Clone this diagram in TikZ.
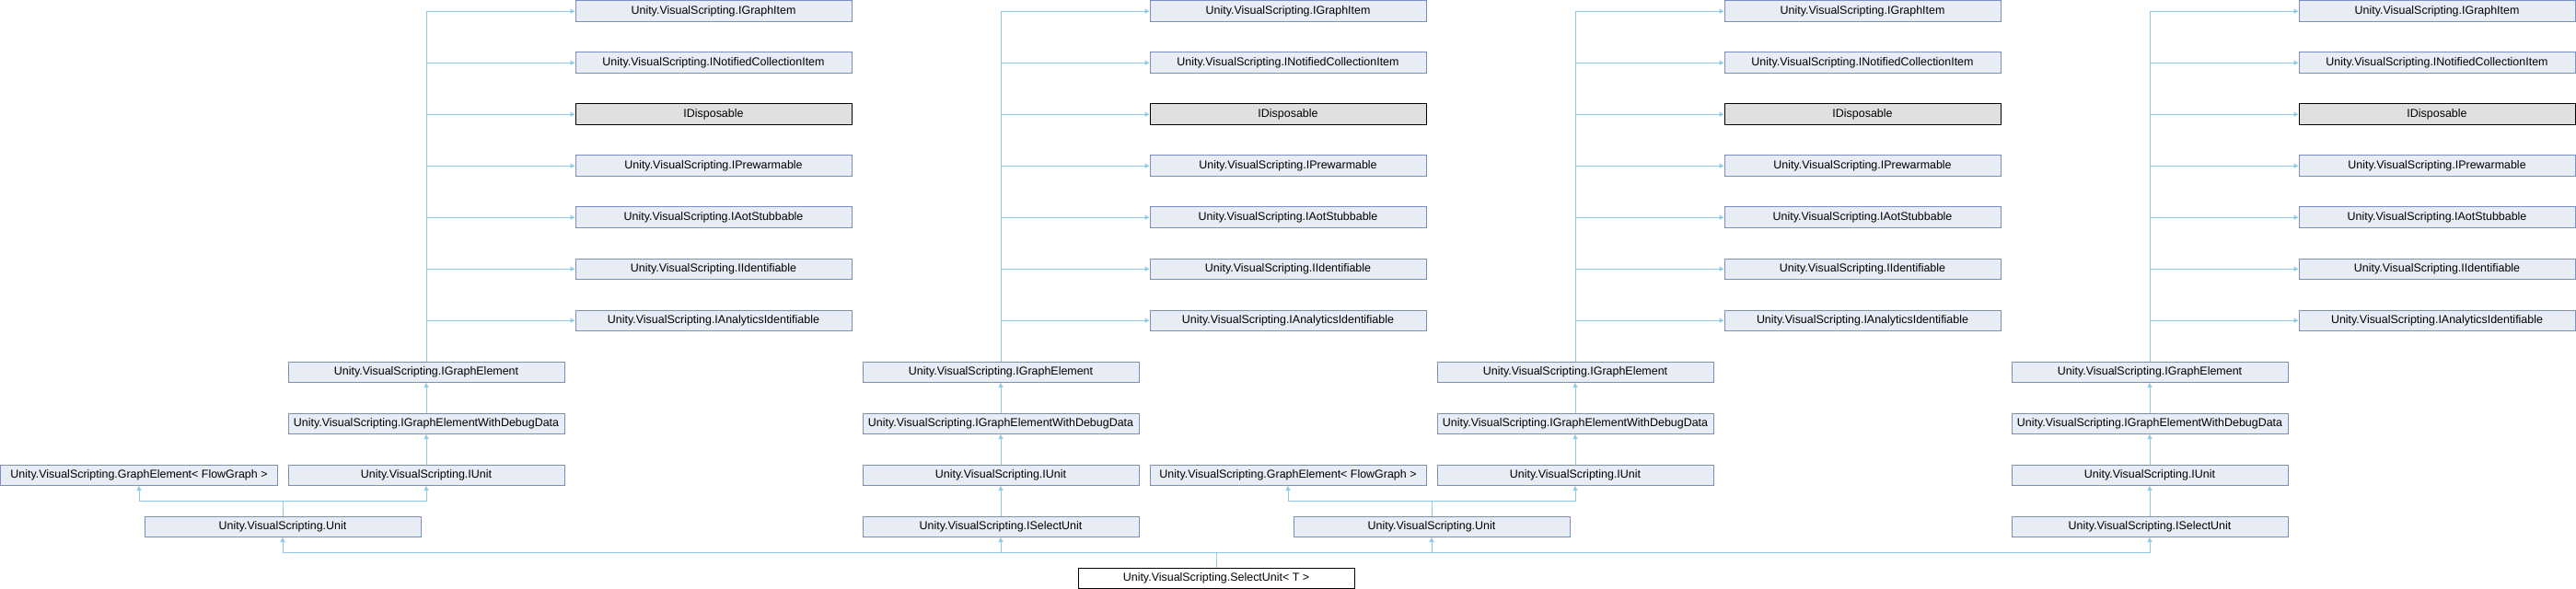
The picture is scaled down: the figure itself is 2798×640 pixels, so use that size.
\documentclass[tikz,border=0pt]{standalone}
\usepackage{fontspec}
\setmainfont{Liberation Sans}
\usetikzlibrary{arrows.meta}
\definecolor{boxfill}{RGB}{232,236,245}
\definecolor{boxline}{RGB}{122,143,201}
\definecolor{edgecol}{RGB}{143,200,232}
\definecolor{extfill}{RGB}{224,224,224}
\tikzset{
  cls/.style={draw=boxline, fill=boxfill, line width=1bp, minimum width=300bp,
    minimum height=22.5bp, inner sep=0pt, anchor=north west,
    font=\fontsize{12.5}{15}\selectfont},
  extcls/.style={cls, draw=black, fill=extfill},
  maincls/.style={cls, draw=black, fill=white},
  edge/.style={draw=edgecol, line width=1bp, -{Triangle[length=5bp,width=5bp]}},
}
\begin{document}
\begin{tikzpicture}[x=1bp,y=-1bp]
\useasboundingbox (0,0) rectangle (2798,640);
\foreach \col/\x in {a/312,b/936,c/1560,d/2184} {
  \node[cls] (\col-IGE) at (\x+0.5,392.5) {Unity.VisualScripting.IGraphElement};
  \node[cls] (\col-IGEW) at (\x+0.5,448.5) {Unity.VisualScripting.IGraphElementWithDebugData};
  \node[cls] (\col-IUnit) at (\x+0.5,504.5) {Unity.VisualScripting.IUnit};
  \draw[edge] (\col-IGEW.north) -- (\col-IGE.south);
  \draw[edge] (\col-IUnit.north) -- (\col-IGEW.south);
  \foreach \s/\t [count=\k from 0] in {
      cls/Unity.VisualScripting.IGraphItem,
      cls/Unity.VisualScripting.INotifiedCollectionItem,
      extcls/IDisposable,
      cls/Unity.VisualScripting.IPrewarmable,
      cls/Unity.VisualScripting.IAotStubbable,
      cls/Unity.VisualScripting.IIdentifiable,
      cls/Unity.VisualScripting.IAnalyticsIdentifiable} {
    \node[\s] (\col-I\k) at (\x+312.5, 56*\k+0.5) {\t};
    \draw[edge] (\col-IGE.north) |- (\col-I\k.west);
  }
}
% columns with Unit
\foreach \col/\x in {a/312,c/1560} {
  \node[cls] (\col-GE) at (\x-311.5,504.5) {Unity.VisualScripting.GraphElement< FlowGraph >};
  \node[cls] (\col-Unit) at (\x-155.5,560.5) {Unity.VisualScripting.Unit};
  \draw[edge] (\col-Unit.north) -- ++(0,-16) -| (\col-GE.south);
  \draw[edge] (\col-Unit.north) -- ++(0,-16) -| (\col-IUnit.south);
}
% columns with ISelectUnit
\foreach \col/\x in {b/936,d/2184} {
  \node[cls] (\col-ISel) at (\x+0.5,560.5) {Unity.VisualScripting.ISelectUnit};
  \draw[edge] (\col-ISel.north) -- (\col-IUnit.south);
}
\node[maincls] (sel) at (1170.5,616.5) {Unity.VisualScripting.SelectUnit< T >};
\foreach \p in {a-Unit,b-ISel,c-Unit,d-ISel}
  \draw[edge] (sel.north) -- ++(0,-16) -| (\p.south);
\end{tikzpicture}
\end{document}
